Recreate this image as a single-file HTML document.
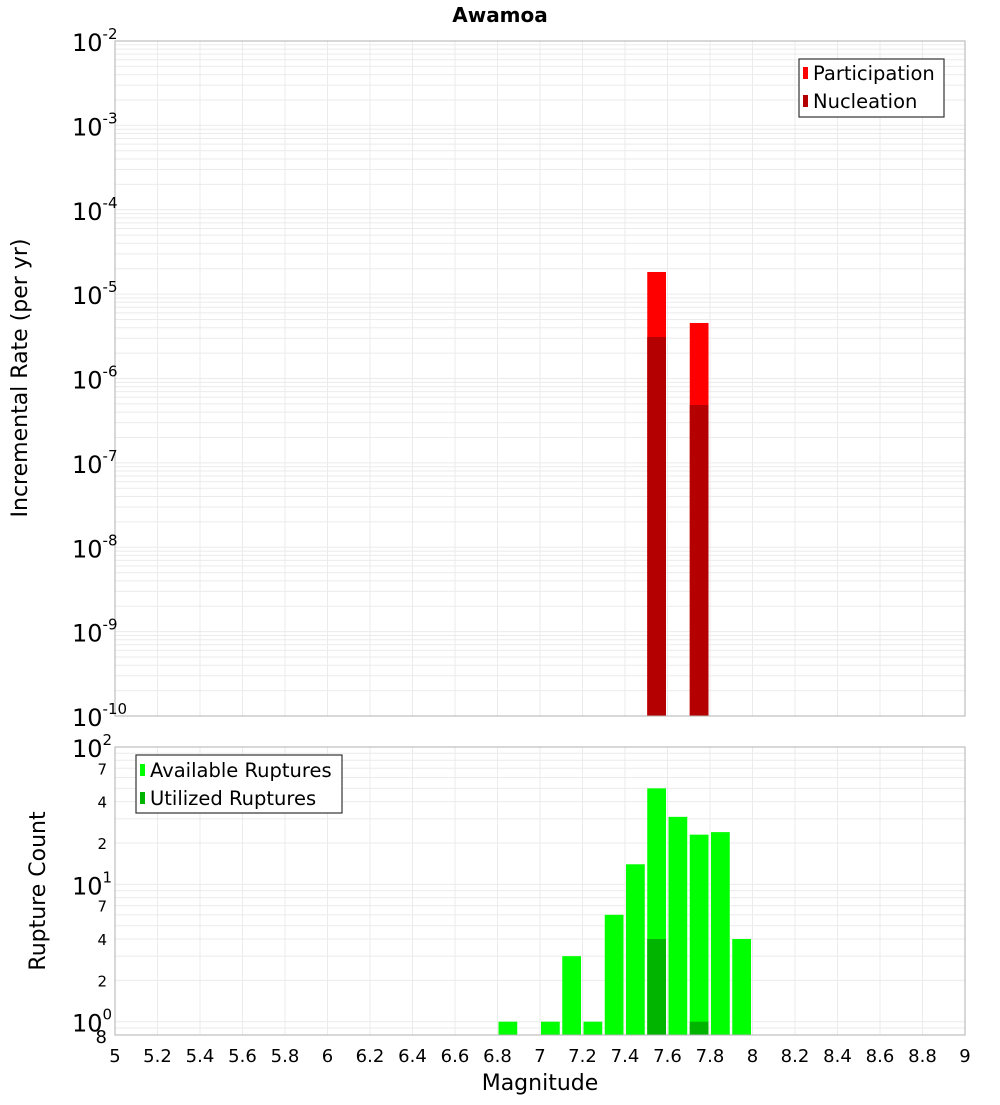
<!DOCTYPE html>
<html><head><meta charset="utf-8"><style>
body{margin:0;background:#fff;width:1000px;height:1100px;overflow:hidden}
svg{font-family:"DejaVu Sans","Liberation Sans",sans-serif}
</style></head><body>
<svg id="c" width="1000" height="1100" xmlns="http://www.w3.org/2000/svg">
<text x="500" y="22" text-anchor="middle" font-size="20" font-weight="bold">Awamoa</text>
<g id="topPlot"></g>
<g id="botPlot"></g>
<text transform="translate(27,378) rotate(-90)" text-anchor="middle" font-size="22">Incremental Rate (per yr)</text>
<text transform="translate(45,891) rotate(-90)" text-anchor="middle" font-size="22">Rupture Count</text>
<text x="540" y="1090" text-anchor="middle" font-size="22">Magnitude</text>
<g>
<rect x="799" y="59" width="145" height="58" fill="#fff" stroke="#333" stroke-width="1.2"/>
<rect x="803" y="67" width="5" height="12" fill="#ff0000"/>
<text x="813" y="80" font-size="19.5">Participation</text>
<rect x="803" y="95" width="5" height="12" fill="#b40000"/>
<text x="813" y="108" font-size="19.5">Nucleation</text>
</g>
<g>
<rect x="136" y="755" width="206" height="58" fill="#fff" stroke="#333" stroke-width="1.2"/>
<rect x="140" y="764" width="5" height="12" fill="#00ff00"/>
<text x="150" y="777" font-size="19.5">Available Ruptures</text>
<rect x="140" y="792" width="5" height="12" fill="#00b400"/>
<text x="150" y="805" font-size="19.5">Utilized Ruptures</text>
</g>
</svg>
<script>
const mags=[7.55,7.75];
const participation=[1.83e-5,4.55e-6];
const nucleation=[3.1e-6,4.85e-7];
const countMags=[6.85,7.05,7.15,7.25,7.35,7.45,7.55,7.65,7.75,7.85,7.95];
const available=[1,1,3,1,6,14,50,31,23,24,4];
const utilizedMags=[7.55,7.75];
const utilized=[4,1];
const xTicks=["5","5.2","5.4","5.6","5.8","6","6.2","6.4","6.6","6.8","7","7.2","7.4","7.6","7.8","8","8.2","8.4","8.6","8.8","9"];
const topExps=[-2,-3,-4,-5,-6,-7,-8,-9,-10];
const botMinor=[2,4,7];

const NS="http://www.w3.org/2000/svg";
const L=115,R=965,T1=41,B1=716,T2=747,B2=1035;
function X(m){return L+(m-5)/4*(R-L);}
function Y1(v){return T1+(-2-Math.log10(v))*(B1-T1)/8;}
const dec2=(B2-T2)/(2-Math.log10(0.8));
function Y2(v){return T2+(2-Math.log10(v))*dec2;}
function mk(p,tag,a){const e=document.createElementNS(NS,tag);for(const k in a)e.setAttribute(k,a[k]);p.appendChild(e);return e;}
const gTop=document.getElementById('topPlot'),gBot=document.getElementById('botPlot');
mk(gTop,'rect',{x:L,y:T1,width:R-L,height:B1-T1,fill:'#fff'});
mk(gBot,'rect',{x:L,y:T2,width:R-L,height:B2-T2,fill:'#fff'});
for(let d=-10;d<-2;d++)for(let k=1;k<10;k++){const y=Y1(k*Math.pow(10,d));const g=mk(gTop,'line',{x1:L,x2:R,y1:y,y2:y,stroke:'#ebebeb','stroke-width':1});

}
for(let d=-1;d<2;d++)for(let k=1;k<10;k++){const v=k*Math.pow(10,d);if(v<0.8||v>100)continue;const y=Y2(v);const g=mk(gBot,'line',{x1:L,x2:R,y1:y,y2:y,stroke:'#ebebeb','stroke-width':1});

}
xTicks.forEach(t=>{const x=X(parseFloat(t));
const a=mk(gTop,'line',{x1:x,x2:x,y1:T1,y2:B1,stroke:'#ebebeb'});


const b=mk(gBot,'line',{x1:x,x2:x,y1:T2,y2:B2,stroke:'#ebebeb'});


const tx=mk(gBot,'text',{x:x,y:1062,'text-anchor':'middle','font-size':18});tx.textContent=t;

});
const bw=(R-L)/40;
mags.forEach((m,i)=>{const x=X(m)-bw/2+1;
const p=mk(gTop,'rect',{x:x,y:Y1(participation[i]),width:bw-2.5,height:B1-Y1(participation[i]),fill:'#ff0000'});


const n=mk(gTop,'rect',{x:x,y:Y1(nucleation[i]),width:bw-2.5,height:B1-Y1(nucleation[i]),fill:'#b40000'});

});
countMags.forEach((m,i)=>{const x=X(m)-bw/2+1;
const r=mk(gBot,'rect',{x:x,y:Y2(available[i]),width:bw-2.5,height:B2-Y2(available[i]),fill:'#00ff00'});

});
utilizedMags.forEach((m,i)=>{const x=X(m)-bw/2+1;
const r=mk(gBot,'rect',{x:x,y:Y2(utilized[i]),width:bw-2.5,height:B2-Y2(utilized[i]),fill:'#00b400'});

});
mk(gTop,'rect',{x:L,y:T1,width:R-L,height:B1-T1,fill:'none',stroke:'#b0b0b0'});
mk(gBot,'rect',{x:L,y:T2,width:R-L,height:B2-T2,fill:'none',stroke:'#b0b0b0'});
topExps.forEach(e=>{const y=Y1(Math.pow(10,e));
const t=mk(gTop,'text',{x:72,y:y+10,'font-size':24});t.innerHTML='10<tspan dy="-12" font-size="15">'+e+'</tspan>';

});
[0,1,2].forEach(e=>{const y=Y2(Math.pow(10,e));
const t=mk(gBot,'text',{x:72,y:y+10,'font-size':24});t.innerHTML='10<tspan dy="-12" font-size="15">'+e+'</tspan>';


if(e<2)botMinor.forEach(k=>{const yy=Y2(k*Math.pow(10,e));const s=mk(gBot,'text',{x:107,y:yy+6,'text-anchor':'end','font-size':15});s.textContent=k;

});});
const e8=mk(gBot,'text',{x:107,y:B2+8,'text-anchor':'end','font-size':18});e8.textContent='8';


</script>
</body></html>
